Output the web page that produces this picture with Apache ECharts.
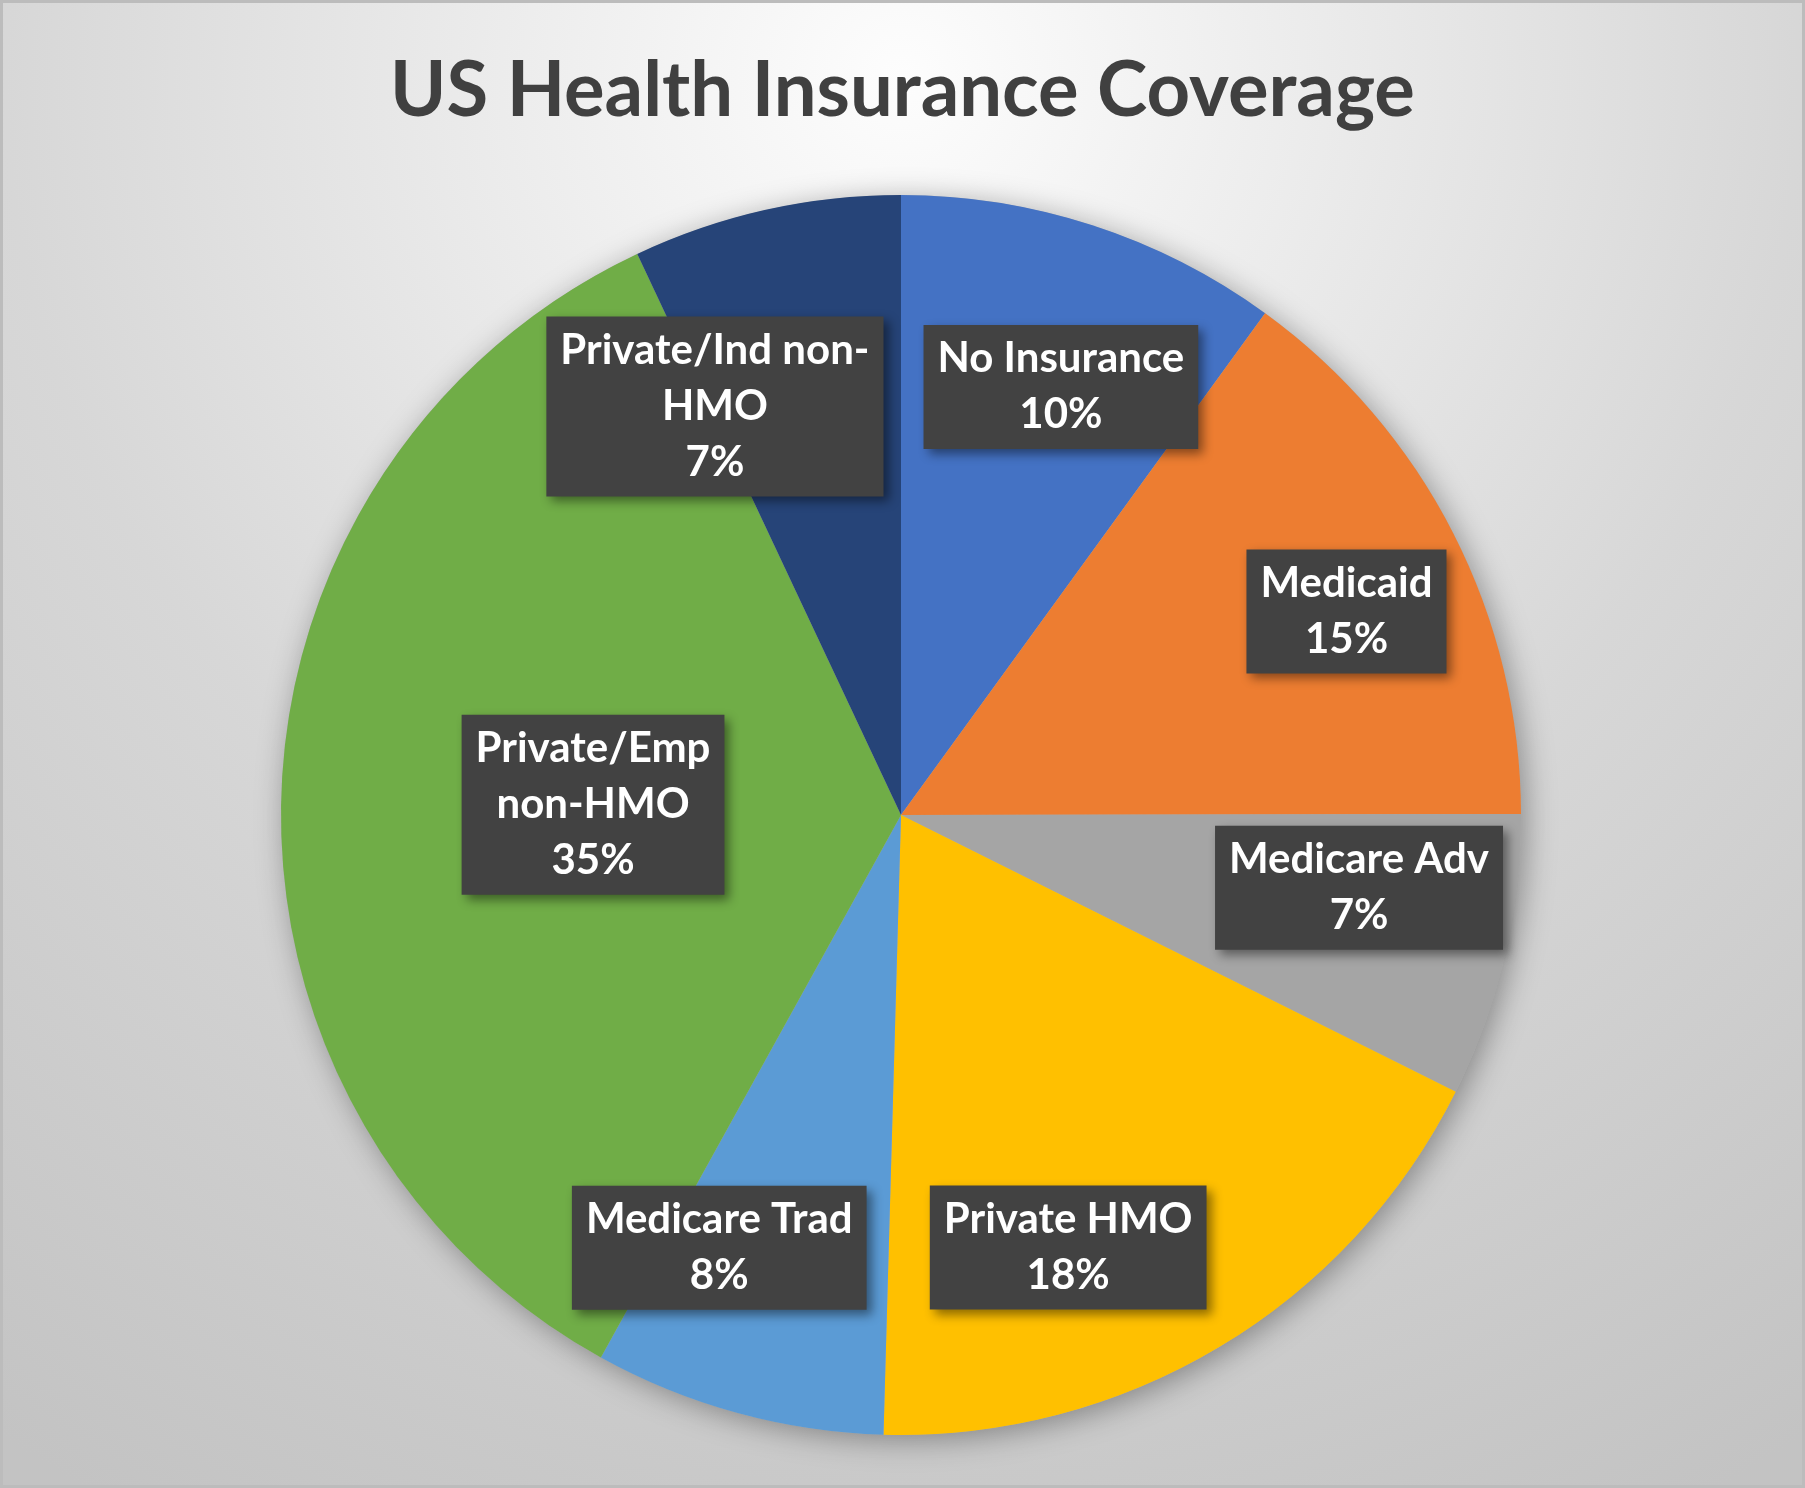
<!DOCTYPE html>
<html>
<head>
<meta charset="utf-8">
<title>US Health Insurance Coverage</title>
<script src="https://cdn.jsdelivr.net/npm/echarts@6/dist/echarts.min.js"></script>
<style>
  html, body { margin: 0; padding: 0; background: #ffffff; }
  #chart { width: 1805px; height: 1488px; box-sizing: border-box; border: 3px solid #bcbcbc; }
</style>
</head>
<body>
<div id="chart"></div>
<script>
// 分类与数值（百分比，从图上读出）
var categories = ['No Insurance', 'Medicaid', 'Medicare Adv', 'Private HMO', 'Medicare Trad', 'Private/Emp non-HMO', 'Private/Ind non-HMO']
var values = [10.0, 15.0, 7.4, 18.1, 7.6, 35.0, 7.0]
var colors = ['#4472C4', '#ED7D31', '#A5A5A5', '#FFC000', '#5B9BD5', '#70AD47', '#264478']

// 标签换行方式（照Excel里的样子）
var labelText = {
    'Private/Emp non-HMO': 'Private/Emp\nnon-HMO',
    'Private/Ind non-HMO': 'Private/Ind non-\nHMO'
}

// 饼图位置，像素（画布内，边框占3px）
var CX = 898, CY = 812, R = 620
// 标签的半径比例和相对扇区中线的角度微调（度）
var labelRadius = [0.737, 0.79, 0.748, 0.748, 0.757, 0.497, 0.724]
var labelNudge = [2.5, 2.5, -4.2, 9.8, 7.5, 0, -11.9]

var total = 0
for (var i = 0; i < values.length; i++) total += values[i]

var pieData = []
for (var i = 0; i < categories.length; i++) {
    pieData.push({ name: categories[i], value: values[i], itemStyle: { color: colors[i] } })
}

var chart = echarts.init(document.getElementById('chart'))

var option = {
    backgroundColor: new echarts.graphic.RadialGradient(0.5, 0.05, 1.1, [
        { offset: 0, color: '#fdfdfd' },
        { offset: 0.55, color: '#d7d7d7' },
        { offset: 1, color: '#c3c3c3' }
    ]),
    animation: false,
    title: {
        text: 'US Health Insurance Coverage',
        left: 'center',
        top: 45,
        textStyle: {
            fontFamily: 'Lato',
            fontWeight: 'bold',
            fontSize: 76,
            color: '#404040'
        }
    },
    series: [
        // 饼图底下的阴影
        {
            type: 'pie',
            silent: true,
            z: 1,
            center: [CX, CY],
            radius: [0, R],
            label: { show: false },
            labelLine: { show: false },
            itemStyle: {
                color: '#b0b0b0',
                shadowBlur: 30,
                shadowOffsetX: 5,
                shadowOffsetY: 5,
                shadowColor: 'rgba(0,0,0,0.35)'
            },
            data: [{ name: 'shadow', value: total }]
        },
        {
            type: 'pie',
            name: 'Coverage',
            z: 2,
            center: [CX, CY],
            radius: [0, R],
            startAngle: 90,
            clockwise: true,
            percentPrecision: 0,
            data: pieData,
            itemStyle: { borderWidth: 0 },
            labelLine: { show: false },
            label: {
                show: true,
                position: 'inside',
                formatter: function (p) {
                    var t = labelText[p.name] || p.name
                    return t + '\n' + p.percent + '%'
                },
                fontFamily: 'Lato',
                fontWeight: 'bold',
                fontSize: 42,
                lineHeight: 56,
                color: '#ffffff',
                backgroundColor: '#424242',
                padding: [10, 14, 2, 14],
                shadowBlur: 10,
                shadowOffsetX: 5,
                shadowOffsetY: 5,
                shadowColor: 'rgba(0,0,0,0.45)'
            },
            labelLayout: function (p) {
                var i = p.dataIndex
                var lx = p.labelRect.x + p.labelRect.width / 2
                var ly = p.labelRect.y + p.labelRect.height / 2
                var mid = Math.atan2(lx - CX, -(ly - CY))
                var a = mid + labelNudge[i] * Math.PI / 180
                var r = R * labelRadius[i]
                return { x: CX + r * Math.sin(a), y: CY - r * Math.cos(a) }
            }
        }
    ]
}

chart.setOption(option)
</script>
</body>
</html>
